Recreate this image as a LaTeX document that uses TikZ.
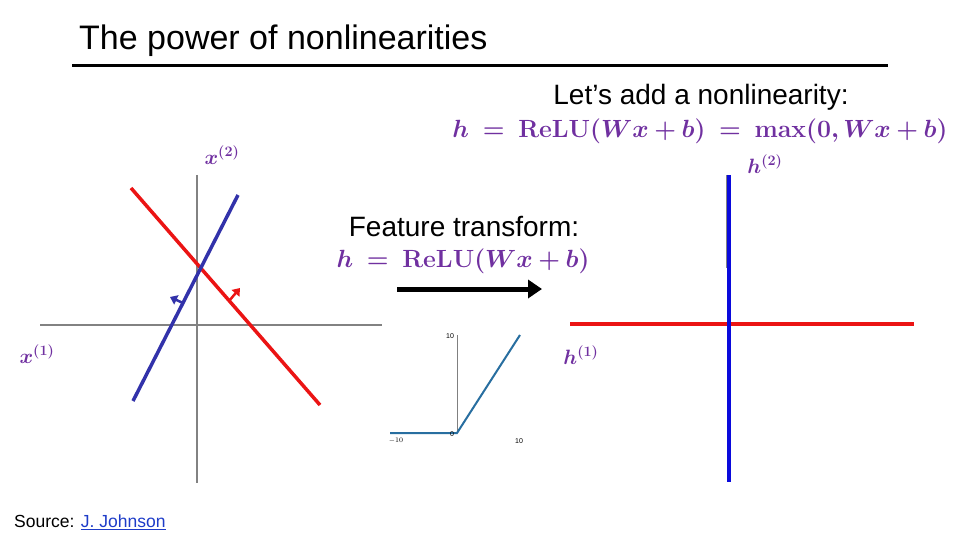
\documentclass[tikz,border=0pt]{standalone}
\usepackage[no-math]{fontspec}
\usepackage{bm}
\setmainfont{Liberation Sans}
\usetikzlibrary{arrows.meta}
\definecolor{purp}{RGB}{112,48,160}
\definecolor{rd}{RGB}{235,20,20}
\definecolor{bl}{RGB}{50,50,170}
\definecolor{bbl}{RGB}{10,10,220}
\definecolor{ax}{RGB}{130,130,130}
\definecolor{relu}{RGB}{40,110,160}
\definecolor{lnk}{RGB}{30,60,200}
\tikzset{axis/.style={draw=ax,line width=2.5pt},
 lbl/.style={text=purp,font=\fontsize{21}{24}\selectfont,inner sep=0},
 eqn/.style={text=purp,font=\fontsize{24.5}{28}\selectfont,inner sep=0},
 txt/.style={font=\fontsize{28}{32}\selectfont,inner sep=0}}
\begin{document}
\begin{tikzpicture}[x=1pt,y=-1pt]
\useasboundingbox (0,0) rectangle (960,540);
\node[anchor=west,font=\fontsize{34}{38}\selectfont,inner sep=0] (title) at (79,41) {The power of nonlinearities};
\coordinate (l1) at (72,66); \coordinate (l2) at (888,66);
\draw[line width=3pt] (l1) -- (l2);
% left plot
\coordinate (va) at (197,175); \coordinate (vb) at (197,483);
\coordinate (ha) at (40,325); \coordinate (hb) at (382,325);
\draw[axis] (va) -- (vb); \draw[axis] (ha) -- (hb);
\coordinate (ra) at (131,188); \coordinate (rb) at (320,405);
\coordinate (ba) at (238,195); \coordinate (bb) at (133,401);
\draw[rd,line width=3.5pt] (ra) -- (rb);
\draw[bl,line width=3.5pt] (ba) -- (bb);
\coordinate (bs) at (183,303); \coordinate (be) at (170,297);
\coordinate (rs) at (229,301); \coordinate (re) at (240,288);
\draw[bl,line width=2.5pt,-{Triangle[length=7pt,width=10pt]}] (bs) -- (be);
\draw[rd,line width=2.5pt,-{Triangle[length=7pt,width=10pt]}] (rs) -- (re);
\node[lbl] (x2) at (222,155) {$\bm{x^{(2)}}$};
\node[lbl] (x1) at (37,354) {$\bm{x^{(1)}}$};
% text
\node[txt] (add) at (701,97) {Let’s add a nonlinearity:};
\node[eqn] (eq1) at (700,131) {$\bm{h\ =\ \mathrm{ReLU}(Wx+b)\ =\ \max(0,Wx+b)}$};
\node[txt] (ft) at (464,227) {Feature transform:};
\node[eqn] (eq2) at (463,261) {$\bm{h\ =\ \mathrm{ReLU}(Wx+b)}$};
\coordinate (aa) at (397,289); \coordinate (ab) at (542,289);
\draw[line width=5pt,-{Triangle[length=14pt,width=18pt]}] (aa) -- (ab);
% relu plot
\coordinate (ya) at (457,335); \coordinate (yb) at (457,433);
\draw[gray,line width=0.6pt] (ya) -- (yb);
\coordinate (r0) at (390,433); \coordinate (r1) at (457,433); \coordinate (r2) at (520,335);
\draw[relu,line width=2pt] (r0) -- (r1) -- (r2);
\node[font=\fontsize{7}{8}\selectfont,inner sep=0] (t10) at (450,336) {10};
\node[font=\fontsize{7}{8}\selectfont,inner sep=0] (t0) at (452,434) {0};
\node[font=\fontsize{7}{8}\selectfont,inner sep=0] (tm) at (396,441) {$-10$};
\node[font=\fontsize{7}{8}\selectfont,inner sep=0] (tp) at (519,441) {10};
% right plot
\coordinate (gv) at (727,175); \coordinate (gw) at (727,268);
\draw[axis,line width=1.5pt] (gv) -- (gw);
\coordinate (hv1) at (729,175); \coordinate (hv2) at (729,482);
\coordinate (hh1) at (570,324); \coordinate (hh2) at (914,324);
\draw[rd,line width=3.5pt] (hh1) -- (hh2);
\draw[bbl,line width=3.5pt] (hv1) -- (hv2);
\node[text=red!80!black,lbl] (h2) at (765,164) {$\bm{h^{(2)}}$};
\node[text=bbl,lbl] (h1) at (581,355) {$\bm{h^{(1)}}$};
\node[anchor=west,font=\fontsize{17.5}{20}\selectfont,inner sep=0] (src) at (14,522) {Source: \textcolor{lnk}{\underline{J. Johnson}}};
\end{tikzpicture}
\end{document}
